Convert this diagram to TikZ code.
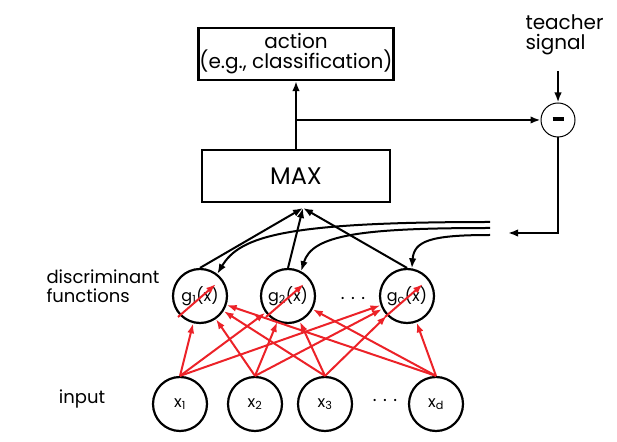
\documentclass[tikz,border=0pt]{standalone}
\usepackage{fontspec}
\setmainfont{Poppins}
\usetikzlibrary{arrows.meta,calc}
\definecolor{wred}{RGB}{236,34,40}

\tikzset{
  txt/.style={font=\fontsize{18}{19}\selectfont},
  big/.style={font=\fontsize{20}{20}\selectfont},
  box/.style={draw, line width=2.2pt, minimum width=188pt, minimum height=52pt, align=center, inner sep=1pt, big},
  unit/.style={draw, circle, line width=2.2pt, minimum size=54pt, inner sep=0pt, font=\fontsize{16}{18}\selectfont},
  blk/.style={line width=2pt, -{Latex[length=10pt,width=7.5pt]}},
  wgt/.style={wred, line width=2pt, -{Latex[length=10pt,width=7pt]}},
}

\begin{document}
\begin{tikzpicture}[x=1pt,y=1pt]
\useasboundingbox (0,0) rectangle (617,441);

% boxes
\node[box] (action) at (296,387) {action\\(e.g., classification)};
\node[box, font=\fontsize{24}{26}\selectfont] (max) at (296,265) {MAX};

% teacher signal
\node[big, align=left, anchor=west] (teacher) at (522,406) {teacher\\signal};
\node[draw, circle, line width=1pt, minimum size=34pt, inner sep=0pt] (minus) at (558,321) {\rule[2pt]{11pt}{3.8pt}};
\coordinate (tsig) at (558,370);

% discriminant functions
\node[unit] (g1) at (200,145) {g\textsubscript{1}(x)};
\node[unit] (g2) at (288,145) {g\textsubscript{2}(x)};
\node[unit] (gd) at (407,145) {g\textsubscript{c}(x)};
\node[txt] (gdots) at (353,143) {. . .};

% inputs
\node[unit] (x1) at (180,37) {x\textsubscript{1}};
\node[unit] (x2) at (255,37) {x\textsubscript{2}};
\node[unit] (x3) at (325,37) {x\textsubscript{3}};
\node[unit] (xd) at (436,37) {x\textsubscript{d}};
\node[txt] (xdots) at (385,41) {. . .};

% labels
\node[txt, align=left, anchor=west] (dlabel) at (43,155) {discriminant\\functions};
\node[txt] (ilabel) at (82,42) {input};

% weights
\foreach \i in {x1,x2,x3,xd}
  \foreach \j in {g1,g2,gd}
    \draw[wgt] (\i.north) -- (\j);
\foreach \j in {g1,g2,gd}
  \draw[wgt] ($(\j)+(-22,-21)$) -- ($(\j)+(16,12)$);

% to MAX
\coordinate (conv) at (303,233);
\draw[blk] (g1.north) -- (conv);
\draw[blk] (g2.north) -- (conv);
\draw[blk] (gd.north) -- (conv);

% output and error
\coordinate (jn) at (max.north |- minus);
\draw[blk] (max.north) -- (action.south);
\draw[blk] (jn) -- (minus.west);
\draw[blk] (tsig) -- (minus.north);
\coordinate (fb) at (508,208);
\draw[blk] (minus.south) |- (fb);

% feedback
\coordinate (f1) at (490,219);
\coordinate (f2) at (490,213);
\coordinate (f3) at (490,206);
\draw[blk] (f1) .. controls (285,219) and (240,205) .. (g1.52);
\draw[blk] (f2) .. controls (360,213) and (312,206) .. (g2.62);
\draw[blk] (f3) .. controls (430,206) and (414,200) .. (gd.80);
\end{tikzpicture}
\end{document}
